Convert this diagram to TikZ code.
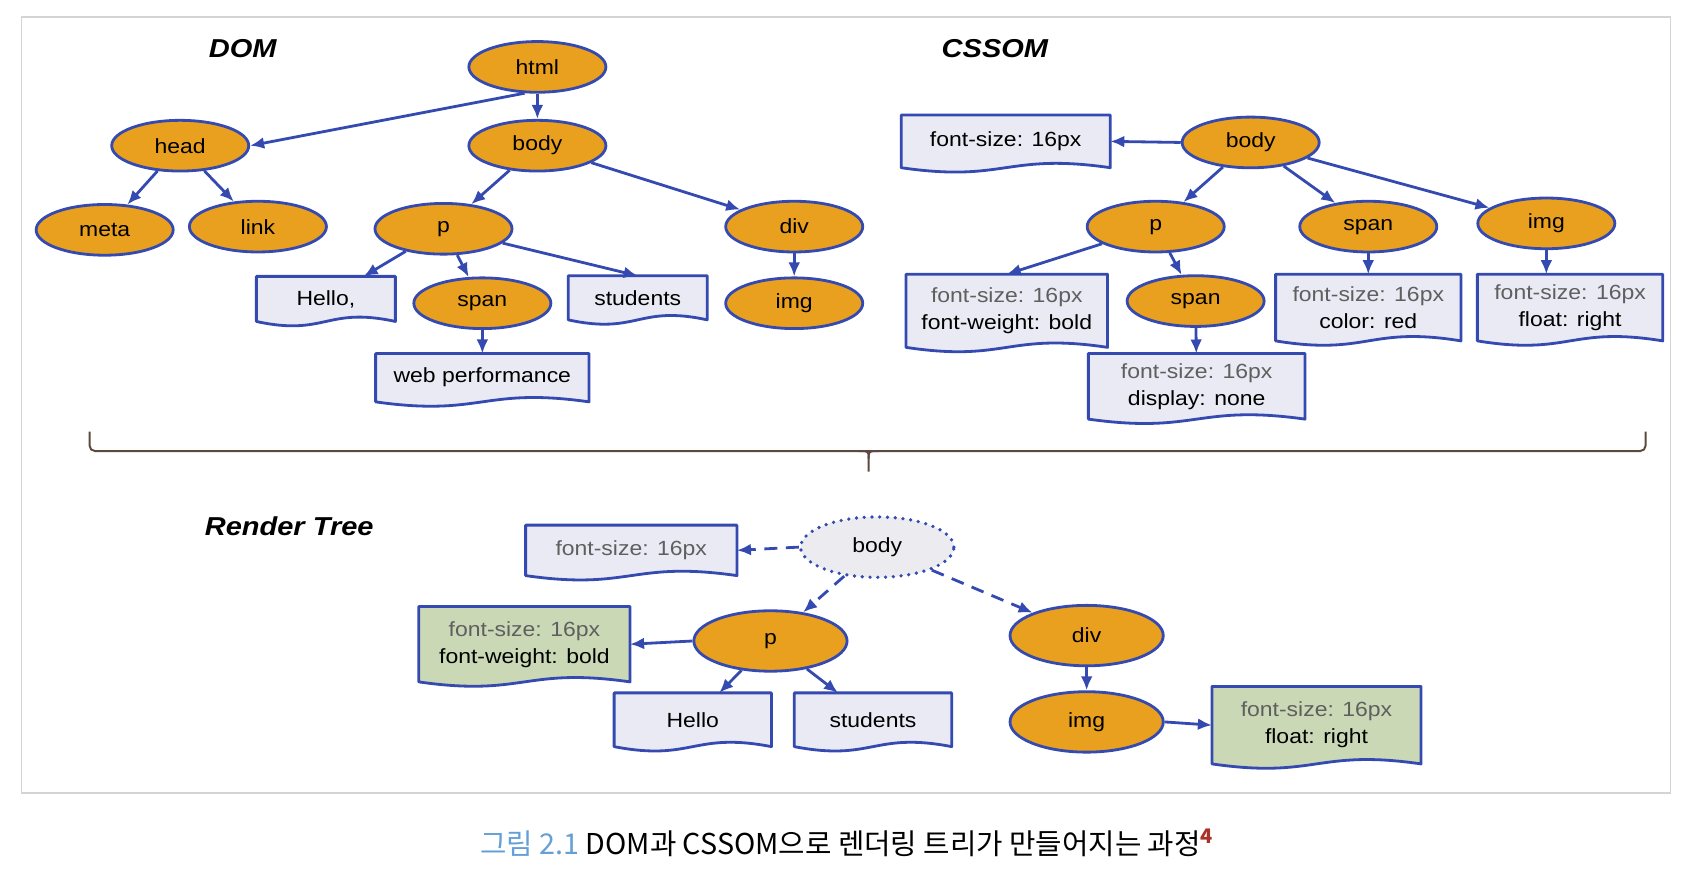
\documentclass[tikz,border=0pt]{standalone}
\usepackage{fontspec}
\setmainfont{Liberation Sans}[FakeStretch=1.12]
\newfontfamily\cjk{Noto Sans CJK KR}
\usepackage{tikz}
\usetikzlibrary{shapes, arrows.meta, calc, backgrounds}
\definecolor{lineblue}{RGB}{52,74,176}
\definecolor{tagorange}{RGB}{232,160,30}
\definecolor{docgray}{RGB}{233,234,243}
\definecolor{docgreen}{RGB}{202,216,182}
\definecolor{dotfill}{RGB}{236,236,240}
\definecolor{dimtext}{RGB}{95,95,95}
\definecolor{framegray}{RGB}{212,212,212}
\definecolor{bracebrown}{RGB}{92,72,62}
\definecolor{capblue}{RGB}{100,160,215}
\definecolor{notered}{RGB}{170,50,40}
\tikzstyle{tag} = [draw=lineblue, fill=tagorange, ellipse, line width=1.3pt, inner sep=0pt, minimum width=63.5pt, minimum height=23.5pt, font=\fontsize{9.5}{12}\selectfont]
\tikzstyle{rtag} = [tag, minimum width=71pt, minimum height=28pt]
\tikzstyle{prop} = [rectangle, inner sep=0pt, align=center, font=\fontsize{9.5}{12.5}\selectfont]
\tikzstyle{conn} = [draw=lineblue, line width=1.3pt, ->]
\tikzstyle{dconn} = [conn, dash pattern=on 6pt off 4pt]
\tikzstyle{title} = [font=\fontsize{12}{14}\selectfont\bfseries\itshape]
% paper shape with a wavy lower edge, drawn behind a prop node
\newcommand{\docpaper}[2]{%
  \filldraw[fill=#2, draw=lineblue, line width=1.3pt, line join=round]
    (#1.north west) -- (#1.north east) -- (#1.south east)
    .. controls ($(#1.south)+(0,-14)$) and ($(#1.south)+(0,14)$) .. (#1.south west) -- cycle;}

\begin{document}
\begin{tikzpicture}[x=0.5pt, y=-0.5pt, >={Latex[length=6.5pt,width=5.5pt]}]
  \useasboundingbox (0,0) rectangle (1568,816);

  % DOM
  \node [title] (domtitle) at (225,45) {DOM};
  \node [tag] (html) at (498,62) {html};
  \node [tag] (head) at (167,135) {head};
  \node [tag, below of=html, node distance=36.5pt] (body) {body};
  \node [tag] (meta) at (97,213) {meta};
  \node [tag] (link) at (239,210) {link};
  \node [tag] (p) at (411,212) {p};
  \node [tag] (div) at (736,210) {div};
  \node [tag] (span) at (447,281) {span};
  \node [tag, below of=div, node distance=35.5pt] (img) {img};
  \node [prop, minimum width=64pt, minimum height=20.5pt] (hello) at (302,277) {Hello,};
  \node [prop, minimum width=64pt, minimum height=20pt] (students) at (591,276) {students};
  \node [prop, minimum width=98.5pt, minimum height=22pt] (webperf) at (447,350) {web performance};

  \draw [conn] (html.244) -- (head.east);
  \draw [conn] (html) -- (body);
  \draw [conn] (head) -- (meta);
  \draw [conn] (head) -- (link);
  \draw [conn] (body) -- (p);
  \draw [conn] (body) -- (div);
  \draw [conn] (p) -- (hello);
  \draw [conn] (p) -- (span);
  \draw [conn] (p) -- (students.north);
  \draw [conn] (div) -- (img);
  \draw [conn] (span) -- (webperf);

  % CSSOM
  \node [title] (csstitle) at (922,45) {CSSOM};
  \node [tag] (cbody) at (1159,132) {body};
  \node [tag] (cp) at (1071,210) {p};
  \node [tag] (cspan) at (1268,210) {span};
  \node [tag] (cimg) at (1433,207) {img};
  \node [tag] (cspantwo) at (1108,279) {span};
  \node [prop, minimum width=96.5pt, minimum height=24pt] (cbodyprop) at (932,131) {font-size: 16px};
  \node [prop, minimum width=93pt, minimum height=33.5pt] (cpprop) at (933,288)
    {\textcolor{dimtext}{font-size: 16px}\\font-weight: bold};
  \node [prop, minimum width=85.5pt, minimum height=30.5pt] (cspanprop) at (1268,285)
    {\textcolor{dimtext}{font-size: 16px}\\color: red};
  \node [prop, minimum width=85.5pt, minimum height=30.5pt] (cimgprop) at (1455,285)
    {\textcolor{dimtext}{font-size: 16px}\\float: right};
  \node [prop, minimum width=100pt, minimum height=30pt] (cspantwoprop) at (1109,358)
    {\textcolor{dimtext}{font-size: 16px}\\display: none};

  \draw [conn] (cbody.west) -- (cbodyprop.east);
  \draw [conn] (cbody) -- (cp);
  \draw [conn] (cbody) -- (cspan);
  \draw [conn] (cbody) -- (cimg);
  \draw [conn] (cp) -- (cpprop.north);
  \draw [conn] (cp) -- (cspantwo);
  \draw [conn] (cspan) -- (cspanprop);
  \draw [conn] (cimg.south) -- (cimg.south |- cimgprop.north);
  \draw [conn] (cspantwo) -- (cspantwoprop);

  % brace joining both trees
  \coordinate (bl) at (83,400);
  \coordinate (br) at (1525,400);
  \coordinate (bm) at (805,418);
  \coordinate (bt) at (805,437);
  \draw [bracebrown, line width=0.9pt, rounded corners=2.5pt] (bl) |- (bm) -| (br);
  \draw [bracebrown, line width=0.9pt] ($(bm)+(-9,0)$) .. controls (bm) .. ($(bm)+(0,7)$) -- (bt);
  \draw [bracebrown, line width=0.9pt] ($(bm)+(9,0)$) .. controls (bm) .. ($(bm)+(0,7)$);

  % Render Tree
  \node [title] (rtitle) at (268,488) {Render Tree};
  \node [rtag, fill=dotfill, dash pattern=on 0pt off 3.6pt, line cap=round, line width=1.7pt] (rbody) at (813,507) {body};
  \node [rtag] (rp) at (714,594) {p};
  \node [rtag] (rdiv) at (1007,589) {div};
  \node [rtag, below of=rdiv, node distance=40pt] (rimg) {img};
  \node [prop, minimum width=97.5pt, minimum height=23pt] (rbodyprop) at (585,510) {\textcolor{dimtext}{font-size: 16px}};
  \node [prop, minimum width=97.5pt, minimum height=34.5pt] (rpprop) at (486,597)
    {\textcolor{dimtext}{font-size: 16px}\\font-weight: bold};
  \node [prop, minimum width=72.5pt, minimum height=24.5pt] (rhello) at (642,667) {Hello};
  \node [prop, minimum width=72.5pt, minimum height=24.5pt] (rstudents) at (809,667) {students};
  \node [prop, minimum width=96.5pt, minimum height=35.5pt] (rimgprop) at (1220,672)
    {\textcolor{dimtext}{font-size: 16px}\\float: right};

  \draw [dconn] (rbody.west) -- (rbodyprop.east);
  \draw [dconn] (rbody) -- (rp);
  \draw [dconn] (rbody) -- (rdiv);
  \draw [conn] (rp.west) -- (rpprop.east);
  \draw [conn] (rp) -- (rhello);
  \draw [conn] (rp) -- (rstudents);
  \draw [conn] (rdiv) -- (rimg);
  \draw [conn] (rimg.east) -- (rimgprop.west);

  \node [font=\cjk\fontsize{13.3}{16}\selectfont] (caption) at (785,781)
    {\textcolor{capblue}{그림 2.1} DOM과 CSSOM으로 렌더링 트리가 만들어지는 과정\textsuperscript{\textcolor{notered}{\bfseries 4}}};

  \begin{scope}[on background layer]
    \draw [framegray, line width=0.8pt] (20,16) rectangle (1548,735);
    \docpaper{hello}{docgray}
    \docpaper{students}{docgray}
    \docpaper{webperf}{docgray}
    \docpaper{cbodyprop}{docgray}
    \docpaper{cpprop}{docgray}
    \docpaper{cspanprop}{docgray}
    \docpaper{cimgprop}{docgray}
    \docpaper{cspantwoprop}{docgray}
    \docpaper{rbodyprop}{docgray}
    \docpaper{rpprop}{docgreen}
    \docpaper{rhello}{docgray}
    \docpaper{rstudents}{docgray}
    \docpaper{rimgprop}{docgreen}
  \end{scope}
\end{tikzpicture}
\end{document}
